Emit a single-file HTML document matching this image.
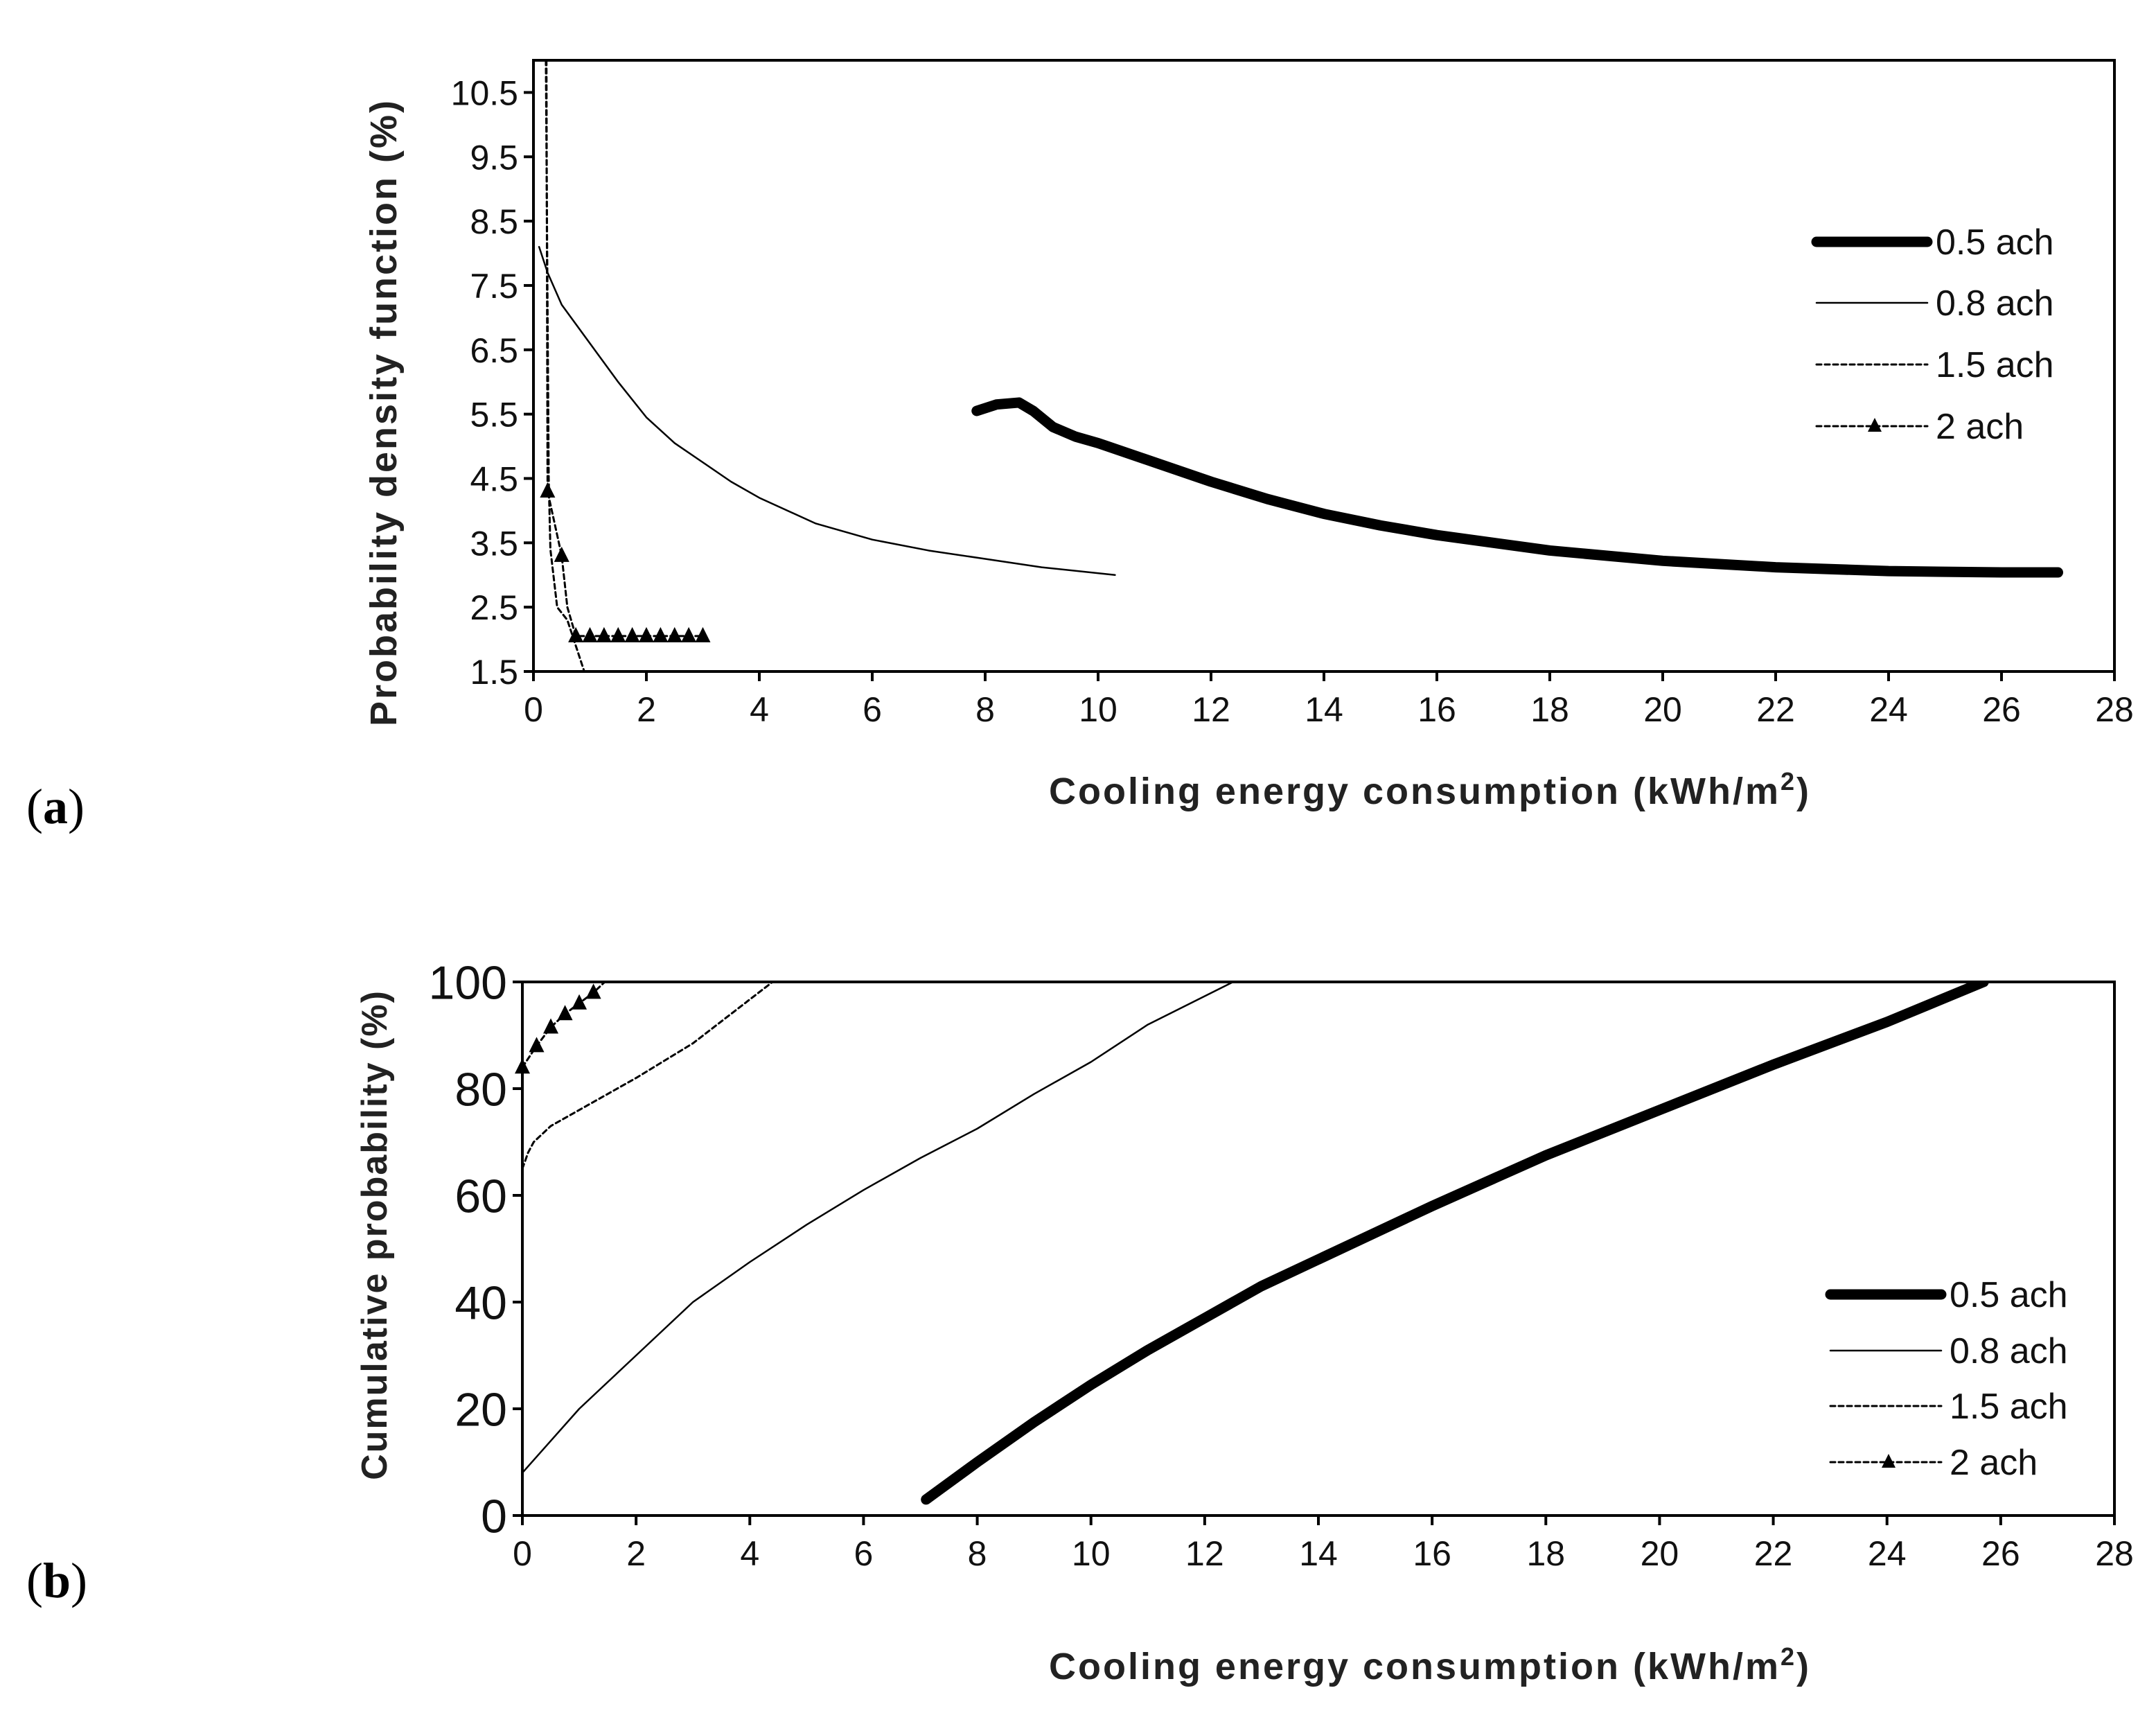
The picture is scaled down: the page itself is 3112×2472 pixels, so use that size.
<!DOCTYPE html>
<html><head><meta charset="utf-8"><style>
body{margin:0;background:#fff;}
svg{display:block;font-family:"Liberation Sans",Arial,sans-serif;}
</style></head><body>
<svg id="fig" width="3112" height="2472" viewBox="0 0 3112 2472"></svg>
<script>
// ---- Panel (a) data ----
const aTicksX=[0,2,4,6,8,10,12,14,16,18,20,22,24,26,28];
const aTicksY=[1.5,2.5,3.5,4.5,5.5,6.5,7.5,8.5,9.5,10.5];
const aX05=[7.85,8.2,8.6,8.85,9.2,9.6,10,11,12,13,14,15,16,18,20,22,24,26,27];
const aY05=[5.55,5.65,5.68,5.55,5.3,5.15,5.05,4.75,4.45,4.18,3.95,3.77,3.62,3.38,3.22,3.12,3.06,3.04,3.04];
const aX08=[0.1,0.25,0.5,0.75,1,1.5,2,2.5,3,3.5,4,5,6,7,8,9,10.3];
const aY08=[8.1,7.7,7.2,6.9,6.6,6.0,5.45,5.05,4.75,4.45,4.2,3.8,3.55,3.38,3.25,3.12,3.0];
const aX15=[0.22,0.27,0.3,0.42,0.6,0.9,6.05];
const aY15=[11,4.5,3.4,2.5,2.3,1.5,1.5];
const aX2=[0.23,0.25,0.5,0.6,0.75,1,1.25,1.5,1.75,2,2.25,2.5,2.75,3];
const aY2=[11,4.3,3.3,2.5,2.05,2.05,2.05,2.05,2.05,2.05,2.05,2.05,2.05,2.05];
const aMarkIdx=[1,2,4,5,6,7,8,9,10,11,12,13];
// ---- Panel (b) data ----
const bTicksX=[0,2,4,6,8,10,12,14,16,18,20,22,24,26,28];
const bTicksY=[0,20,40,60,80,100];
const bX05=[7.1,8,9,10,11,12,13,14,16,18,20,22,24,25.7];
const bY05=[3,10,17.5,24.5,31,37,43,48,58,67.5,76,84.5,92.5,100];
const bX08=[0,0.5,1,1.5,2,2.5,3,4,5,6,7,8,9,10,11,12.5];
const bY08=[8,14,20,25,30,35,40,47.5,54.5,61,67,72.5,79,85,92,100];
const bX15=[0,0.1,0.2,0.5,1,2,3,4.4];
const bY15=[65,68,70,73,76,82,88.5,100];
const bX2=[0,0.25,0.5,0.75,1,1.25,1.45];
const bY2=[84,88,91.5,94,96,98,100];
const bMarkIdx=[0,1,2,3,4,5];
const legendLabels=["0.5 ach","0.8 ach","1.5 ach","2 ach"];

const NS="http://www.w3.org/2000/svg";
const svg=document.getElementById('fig');
function el(tag,attrs,parent){const e=document.createElementNS(NS,tag);for(const k in attrs)e.setAttribute(k,attrs[k]);(parent||svg).appendChild(e);return e;}

function panel(cfg){
  const g=el('g',{});
  
  
  const sx=v=>cfg.L+(v-cfg.x0)/(cfg.x1-cfg.x0)*(cfg.R-cfg.L);
  const sy=v=>cfg.B-(v-cfg.y0)/(cfg.y1-cfg.y0)*(cfg.B-cfg.T);
  const frame=el('rect',{x:cfg.L,y:cfg.T,width:cfg.R-cfg.L,height:cfg.B-cfg.T,fill:'none',stroke:'#000','stroke-width':4},g);
  
  
  cfg.tx.forEach(t=>{
    el('line',{x1:sx(t),x2:sx(t),y1:cfg.B,y2:cfg.B+14,stroke:'#000','stroke-width':4},g);
    const tt=el('text',{x:sx(t),y:cfg.B+72,'font-size':cfg.fsx,'text-anchor':'middle',fill:'#111'},g);
    tt.textContent=t;
    
    
  });
  cfg.ty.forEach(t=>{
    el('line',{x1:cfg.L-14,x2:cfg.L,y1:sy(t),y2:sy(t),stroke:'#000','stroke-width':4},g);
    const tt=el('text',{x:cfg.L-22,y:sy(t)+cfg.fsy*0.36,'font-size':cfg.fsy,'text-anchor':'end',fill:'#111'},g);
    tt.textContent=t;
    
    
  });
  const clip=el('clipPath',{id:cfg.name+'-clip'},g);
  el('rect',{x:cfg.L,y:cfg.T,width:cfg.R-cfg.L,height:cfg.B-cfg.T},clip);
  const series=[
    {x:cfg.s05x,y:cfg.s05y,w:15,dash:null,name:'series-0-5-ach'},
    {x:cfg.s08x,y:cfg.s08y,w:2.5,dash:null,name:'series-0-8-ach'},
    {x:cfg.s15x,y:cfg.s15y,w:3,dash:'7 5',name:'series-1-5-ach'},
    {x:cfg.s2x,y:cfg.s2y,w:3,dash:'7 5',name:'series-2-ach'}
  ];
  series.forEach(s=>{
    const p=el('polyline',{points:s.x.map((v,i)=>sx(v)+','+sy(s.y[i])).join(' '),fill:'none',stroke:'#000','stroke-width':s.w,'stroke-linejoin':'round','stroke-linecap':'round','clip-path':'url(#'+cfg.name+'-clip)'},g);
    if(s.dash)p.setAttribute('stroke-dasharray',s.dash);
    
    
  });
  cfg.mi.forEach(i=>{
    const x=sx(cfg.s2x[i]),y=sy(cfg.s2y[i]);
    const m=el('polygon',{points:`${x},${y-13} ${x-11},${y+9} ${x+11},${y+9}`,fill:'#000'},g);
    
    
  });
  const xt=el('text',{x:2064,y:cfg.xtY,'font-size':54,'font-weight':'bold','letter-spacing':3,'text-anchor':'middle',fill:'#222'},g);
  xt.innerHTML='Cooling energy consumption (kWh/m<tspan font-size="36" dy="-20">2</tspan><tspan dy="20">)</tspan>';
  
  
  const yt=el('text',{x:0,y:0,'font-size':cfg.ytFs,'font-weight':'bold','letter-spacing':cfg.ytLs,'text-anchor':'middle',fill:'#222',transform:`translate(${cfg.ytX},${cfg.ytY}) rotate(-90)`},g);
  yt.textContent=cfg.ytitle;
  
  
  const lg=el('g',{},g);
  
  
  legendLabels.forEach((lab,i)=>{
    const y=cfg.legY[i];
    const s=series[i];
    const ln=el('line',{x1:cfg.legX,x2:cfg.legX+160,y1:y,y2:y,stroke:'#000','stroke-width':s.w,'stroke-linecap':'round'},lg);
    if(s.dash)ln.setAttribute('stroke-dasharray',s.dash);
    
    
    if(i===3){const mx=cfg.legX+84;el('polygon',{points:`${mx},${y-12} ${mx-10},${y+8} ${mx+10},${y+8}`,fill:'#000'},lg);}
    const t=el('text',{x:cfg.legX+172,y:y+18,'font-size':52,fill:'#111'},lg);
    t.textContent=lab;
    
    
  });
}

panel({name:'panel-a',L:770,R:3052,T:87,B:969,x0:0,x1:28,y0:1.5,y1:11,
  tx:aTicksX,ty:aTicksY,fsx:50,fsy:50,
  s05x:aX05,s05y:aY05,s08x:aX08,s08y:aY08,s15x:aX15,s15y:aY15,s2x:aX2,s2y:aY2,mi:aMarkIdx,
  xtY:1160,ytX:572,ytY:595,ytFs:54,ytLs:3,ytitle:'Probability density function (%)',
  legX:2622,legY:[349,437,526,615]});
panel({name:'panel-b',L:754,R:3052,T:1417,B:2187,x0:0,x1:28,y0:0,y1:100,
  tx:bTicksX,ty:bTicksY,fsx:50,fsy:68,
  s05x:bX05,s05y:bY05,s08x:bX08,s08y:bY08,s15x:bX15,s15y:bY15,s2x:bX2,s2y:bY2,mi:bMarkIdx,
  xtY:2423,ytX:558,ytY:1782,ytFs:52,ytLs:2,ytitle:'Cumulative probability (%)',
  legY:[1868,1949,2029,2110],legX:2642});

[['(a)',1188,'panel-a-label'],['(b)',2305,'panel-b-label']].forEach(([t,y,n])=>{
  const e=el('text',{x:38,y:y,'font-size':72,'font-family':'"Liberation Serif",serif',fill:'#000'});
  e.innerHTML='(<tspan font-weight="bold">'+t[1]+'</tspan>)';
  
  
});
</script>
</body></html>
